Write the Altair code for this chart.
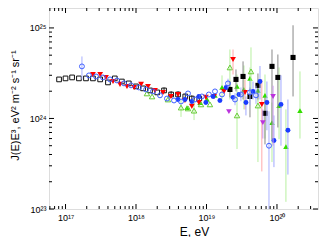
import altair as alt
import pandas as pd

W, H = 269, 201
XDOM = [5.83e16, 3.82e20]
YDOM = [1e23, 1.66e25]

# ---- data ----
# black open squares
bo_E = [8.1e16, 1.0e17, 1.24e17, 1.55e17, 1.95e17, 2.45e17, 3.1e17, 4.0e17, 5.0e17, 6.3e17, 7.9e17,
        1.0e18, 1.26e18, 1.58e18, 2.0e18, 2.5e18, 3.15e18, 3.95e18, 5.0e18, 6.2e18, 7.9e18]
bo_J = [2.70e24, 2.77e24, 2.84e24, 2.77e24, 2.77e24, 2.77e24, 2.70e24, 2.50e24, 2.77e24, 2.56e24, 2.44e24,
        2.26e24, 2.15e24, 2.04e24, 1.94e24, 2.04e24, 1.84e24, 1.84e24, 1.75e24, 1.66e24, 1.66e24]
bo_lo = [None] * 15 + [1.90e24, 1.70e24, 1.70e24, 1.62e24, 1.53e24, 1.52e24]
bo_hi = [None] * 15 + [2.20e24, 2.00e24, 2.00e24, 1.90e24, 1.80e24, 1.82e24]

# black filled squares
bf_E = [2.15e19, 2.62e19, 3.3e19, 4.14e19, 5.37e19, 6.76e19, 8.5e19, 1.03e20, 1.69e20]
bf_J = [2.09e24, 2.70e24, 2.91e24, 1.75e24, 2.32e24, 1.14e24, 3.76e24, 2.84e24, 4.72e24]
bf_lo = [1.71e24, 1.99e24, 1.62e24, 1.03e24, 1.62e24, 5.17e23, 5.86e23, 7.95e23, 1.75e24]
bf_hi = [2.56e24, 3.48e24, 4.27e24, 2.20e24, 3.14e24, 1.71e24, 5.78e24, 5.09e24, 1.07e25]

# red downward triangles
rd_E = [2.45e17, 3.1e17, 3.75e17, 4.72e17, 5.93e17, 7.45e17, 9.4e17, 1.18e18, 1.48e18, 1.86e18,
        2.42e18, 3.13e18, 3.94e18, 4.95e18, 6.2e18, 7.8e18, 9.8e18, 1.28e19, 1.77e19, 2.38e19,
        3.52e19, 6.1e19]
rd_J = [3.06e24, 3.06e24, 2.84e24, 2.56e24, 2.38e24, 2.26e24, 2.20e24, 2.38e24, 2.26e24, 2.04e24,
        1.94e24, 1.75e24, 1.84e24, 1.58e24, 1.36e24, 1.50e24, 1.71e24, 1.75e24, 1.99e24, 4.49e24,
        1.94e24, 1.43e24]
rd_lo = [None] * 19 + [3.06e24, 1.26e24, 2.6e23]
rd_hi = [None] * 19 + [5.78e24, 2.70e24, 2.70e24]

# blue open circles
bc_E = [1.71e17, 2.15e17, 2.71e17, 3.4e17, 4.28e17, 5.37e17, 6.76e17, 8.5e17, 1.1e18, 1.39e18,
        1.74e18, 2.19e18, 2.75e18, 3.46e18, 4.35e18, 5.47e18, 6.87e18, 8.6e18, 1.08e19, 1.32e19,
        1.66e19, 2.02e19, 2.54e19, 3.08e19, 4.14e19, 5.04e19, 7.7e19]
bc_J = [3.76e24, 2.99e24, 2.91e24, 2.84e24, 2.70e24, 2.63e24, 2.44e24, 2.32e24, 2.20e24, 2.09e24,
        1.99e24, 1.80e24, 1.66e24, 1.58e24, 1.54e24, 1.89e24, 1.62e24, 1.75e24, 1.84e24, 1.99e24,
        1.84e24, 2.44e24, 1.62e24, 1.84e24, 1.94e24, 1.80e24, 5.0e23]
bc_lo = [2.70e24] + [None] * 20 + [2.15e24, 1.40e24, 1.55e24, 1.40e24, 1.45e24, 1.0e23]
bc_hi = [4.84e24] + [None] * 20 + [2.75e24, 1.90e24, 2.20e24, 2.60e24, 2.30e24, 1.2e24]

# blue filled circles
bb_E = [3.94e18, 4.95e18, 6.2e18, 7.8e18, 9.8e18, 1.24e19, 1.55e19, 1.9e19, 2.38e19, 2.89e19,
        3.63e19, 4.57e19, 5.74e19, 7.2e19, 9.06e19, 1.14e20, 1.43e20]
bb_J = [1.62e24, 1.62e24, 1.54e24, 1.75e24, 1.50e24, 1.75e24, 1.58e24, 2.20e24, 1.71e24, 1.84e24,
        1.50e24, 1.99e24, 2.56e24, 1.50e24, 5.71e23, 1.43e24, 7.4e23]
bb_lo = [None] * 10 + [1.08e24, 1.62e24, 1.62e24, 7.4e23, 2.9e23, 5.0e23, 2.4e23]
bb_hi = [None] * 10 + [1.75e24, 2.56e24, 3.8e24, 2.56e24, 1.08e24, 3.0e24, 1.62e24]

# magenta downward triangles
mg_E = [2.08e19, 6.3e19, 8.8e19]
mg_J = [1.19e24, 9.0e23, 1.75e24]
mg_lo = [None, 6.0e23, 5.0e23]
mg_hi = [None, 1.26e24, 2.3e24]

# green open triangles
go_E = [1.43e18, 1.69e18, 2.84e18, 4.35e18, 5.47e18, 6.66e18, 8.36e18, 1.12e19, 2.15e19, 2.71e19,
        4.28e19, 5.37e19]
go_J = [1.89e24, 1.75e24, 1.62e24, 1.32e24, 1.29e24, 1.22e24, 1.43e24, 1.43e24, 3.66e24, 1.08e24,
        3.31e24, 1.39e24]
go_lo = [None, None, None, 1.04e24, None, 9.6e23, None, None, 1.62e24, 4.6e23, 1.75e24, 3.3e23]
go_hi = [None, None, None, 1.62e24, None, 1.62e24, None, None, 5.78e24, 1.62e24, 6.1e24, 1.62e24]

# green filled triangles
gf_E = [5.29e18, 8.1e18, 1.02e19, 1.32e19, 1.66e19, 2.71e19, 3.4e19, 4.14e19, 5.37e19, 6.76e19,
        8.5e19, 1.07e20, 1.34e20, 2.12e20]
gf_J = [1.32e24, 1.50e24, 1.62e24, 1.80e24, 2.20e24, 2.26e24, 2.09e24, 2.77e24, 2.04e24, 1.80e24,
        9.0e23, 1.39e24, 4.9e23, 1.22e24]
gf_lo = [None] * 4 + [1.62e24, 1.62e24, 1.26e24, 1.84e24, 1.54e24, 6.0e23, 3.3e23, 5.9e23, 1.2e23, 6.0e23]
gf_hi = [None] * 4 + [2.99e24, 3.06e24, 3.85e24, 3.66e24, 2.70e24, 3.06e24, 1.50e24, 3.66e24, 1.26e24, 3.31e24]

# axis ticks
x_major = [1e17, 1e18, 1e19, 1e20]
x_minor = [k * 10.0 ** n for n in range(16, 21) for k in range(2, 10) if XDOM[0] <= k * 10.0 ** n <= XDOM[1]]
y_major = [1e23, 1e24, 1e25]
y_minor = [k * 10.0 ** n for n in range(23, 26) for k in range(2, 10) if YDOM[0] <= k * 10.0 ** n <= YDOM[1]]

FONT = "Liberation Sans"

xaxis = alt.Axis(
    values=x_major, title="E, eV", grid=False, ticks=False, domain=False,
    labelExpr="datum.value == 1e17 ? '10¹⁷' : datum.value == 1e18 ? '10¹⁸' : datum.value == 1e19 ? '10¹⁹' : '10²⁰'",
    labelFont=FONT, labelFontSize=9, labelColor="black", labelPadding=4, labelFlush=False,
    titleFont=FONT, titleFontSize=12, titleFontWeight="normal", titleColor="black",
    titleX=145, titleY=26, titleBaseline="alphabetic", titleAnchor="middle", titleAlign="center",
)
yaxis = alt.Axis(
    values=y_major, title="J(E)E³, eV² m⁻² s⁻¹ sr⁻¹", grid=False, ticks=False, domain=False,
    labelExpr="datum.value == 1e23 ? '10²³' : datum.value == 1e24 ? '10²⁴' : '10²⁵'",
    labelFont=FONT, labelFontSize=9, labelColor="black", labelPadding=3, labelFlush=False,
    titleFont=FONT, titleFontSize=11, titleFontWeight="normal", titleColor="black",
    titleX=-34, titleY=97, titleAngle=270, titleAlign="center", titleBaseline="middle",
)
xs = alt.Scale(type="log", domain=XDOM, nice=False)
ys = alt.Scale(type="log", domain=YDOM, nice=False)


def X(f="E"):
    return alt.X(f"{f}:Q", scale=xs, axis=xaxis)


def Y(f="J"):
    return alt.Y(f"{f}:Q", scale=ys, axis=yaxis)


layers = []


def series(E, J, lo, hi, shape, color, filled, size, errcolor):
    d = pd.DataFrame({"E": E, "J": J})
    if lo is not None:
        e = pd.DataFrame({"E": E, "lo": lo, "hi": hi}).dropna()
        layers.append(alt.Chart(e).mark_rule(color=errcolor, strokeWidth=1, clip=True)
                      .encode(x=X(), y=Y("lo"), y2="hi:Q"))
    mk = dict(shape=shape, filled=filled, size=size, color=color, opacity=1, clip=True, strokeWidth=1)
    if filled:
        mk["fill"] = color
    layers.append(alt.Chart(d).mark_point(**mk).encode(x=X(), y=Y()))


series(bo_E, bo_J, bo_lo, bo_hi, "square", "#111111", False, 22, "#222222")
series(gf_E, gf_J, gf_lo, gf_hi, "triangle-up", "#33dd00", True, 30, "#b8f0a0")
series(go_E, go_J, go_lo, go_hi, "triangle-up", "#66cc33", False, 30, "#b8f0a0")
series(rd_E, rd_J, rd_lo, rd_hi, "triangle-down", "#ff0000", True, 34, "#ffaaaa")
series(bf_E, bf_J, bf_lo, bf_hi, "square", "#000000", True, 26, "#888888")
series(bb_E, bb_J, bb_lo, bb_hi, "circle", "#1a3cff", True, 24, "#a0a8ff")
series(bc_E, bc_J, bc_lo, bc_hi, "circle", "#4060ff", False, 24, "#a8b0ff")
series(mg_E, mg_J, mg_lo, mg_hi, "triangle-down", "#bb33dd", True, 32, "#cc99ee")

# inward ticks on all four sides
xmaj = pd.DataFrame({"E": x_major})
xmin = pd.DataFrame({"E": x_minor})
ymaj = pd.DataFrame({"J": y_major})
ymin = pd.DataFrame({"J": y_minor})
for dd, ln in ((xmaj, 5), (xmin, 3)):
    layers.append(alt.Chart(dd).mark_rule(color="black", strokeWidth=1)
                  .encode(x=X(), y=alt.value(H), y2=alt.value(H - ln)))
    layers.append(alt.Chart(dd).mark_rule(color="black", strokeWidth=1)
                  .encode(x=X(), y=alt.value(0), y2=alt.value(ln)))
for dd, ln in ((ymaj, 5), (ymin, 3)):
    layers.append(alt.Chart(dd).mark_rule(color="black", strokeWidth=1)
                  .encode(y=Y(), x=alt.value(0), x2=alt.value(ln)))
    layers.append(alt.Chart(dd).mark_rule(color="black", strokeWidth=1)
                  .encode(y=Y(), x=alt.value(W), x2=alt.value(W - ln)))

chart = alt.layer(*layers).properties(
    width=W, height=H,
    autosize=alt.AutoSizeParams(type="none"),
    padding={"left": 41, "top": 0, "right": 1, "bottom": 28},
).configure_view(stroke="black", strokeWidth=1.2).configure(background="white")

chart.save("out.html", embed_options={"renderer": "svg", "actions": False})
